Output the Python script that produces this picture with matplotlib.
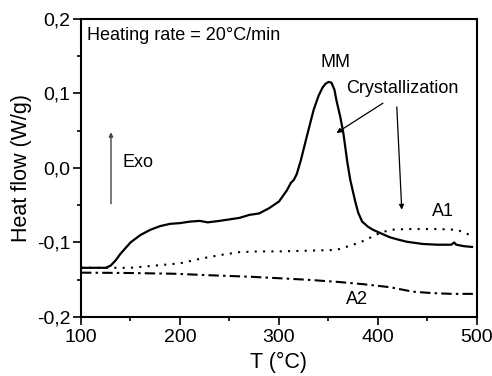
import matplotlib
matplotlib.use("Agg")
import matplotlib.pyplot as plt
from matplotlib.ticker import MultipleLocator

plt.rcParams['font.family'] = ['Liberation Sans', 'DejaVu Sans']

# MM curve (solid)
t_mm = [100, 115, 125, 130, 135, 140, 150, 160, 170, 180, 190, 200, 210, 220, 228,
        240, 250, 260, 270, 280, 290, 300, 308, 312, 315, 318, 322, 329, 335, 340,
        344, 347, 350, 353, 356, 358, 362, 365, 369, 372, 377, 380, 384, 390, 395,
        405, 412, 420, 429, 445, 460, 474, 477, 479, 487, 495]
hf_mm = [-0.134, -0.134, -0.134, -0.131, -0.124, -0.115, -0.100, -0.090, -0.083, -0.078,
         -0.075, -0.074, -0.072, -0.071, -0.073, -0.071, -0.069, -0.067, -0.063, -0.061,
         -0.054, -0.045, -0.030, -0.020, -0.016, -0.008, 0.010, 0.047, 0.078, 0.097,
         0.108, 0.113, 0.1155, 0.1145, 0.105, 0.091, 0.068, 0.047, 0.008, -0.016,
         -0.045, -0.060, -0.072, -0.079, -0.083, -0.089, -0.093, -0.096, -0.099, -0.102,
         -0.103, -0.103, -0.100, -0.103, -0.105, -0.106]

# A1 curve (dotted)
t_a1 = [100, 150, 175, 200, 220, 240, 260, 280, 300, 330, 358, 375, 387, 399, 412,
        429, 462, 480, 493]
hf_a1 = [-0.134, -0.134, -0.131, -0.128, -0.122, -0.117, -0.113, -0.112, -0.112, -0.111,
         -0.110, -0.103, -0.097, -0.089, -0.083, -0.082, -0.082, -0.083, -0.090]

# A2 curve (dash-dot)
t_a2 = [100, 150, 195, 230, 271, 300, 328, 360, 385, 412, 435, 455, 475, 500]
hf_a2 = [-0.1405, -0.141, -0.142, -0.144, -0.146, -0.148, -0.150, -0.153, -0.156,
         -0.160, -0.166, -0.168, -0.169, -0.169]

y_ticks = [-0.2, -0.1, 0.0, 0.1, 0.2]
y_tick_labels = ['-0,2', '-0,1', '0,0', '0,1', '0,2']
x_ticks = [100, 200, 300, 400, 500]

fig = plt.figure(figsize=(4.92, 3.76), dpi=100)
ax = fig.add_axes([0.1646, 0.157, 0.8049, 0.7925])

ax.plot(t_mm, hf_mm, color='black', lw=1.6, solid_joinstyle='round')
ax.plot(t_a1, hf_a1, color='black', lw=1.5, linestyle=(0, (1.0, 3.0)))
ax.plot(t_a2, hf_a2, color='black', lw=1.5, linestyle=(0, (5, 2, 1.2, 2)))

ax.set_xlim(100, 500)
ax.set_ylim(-0.2, 0.2)
ax.set_xticks(x_ticks)
ax.set_yticks(y_ticks)
ax.set_yticklabels(y_tick_labels)
ax.xaxis.set_minor_locator(MultipleLocator(50))
ax.yaxis.set_minor_locator(MultipleLocator(0.05))
ax.tick_params(which='major', direction='out', length=6, width=1.2, labelsize=14, pad=1.5)
ax.tick_params(which='minor', direction='out', length=3, width=1.2)
ax.tick_params(axis='x', which='major', pad=3)
for s in ax.spines.values():
    s.set_linewidth(1.5)

ax.set_xlabel('T (°C)', fontsize=15.5, labelpad=4)
ax.set_ylabel('Heat flow (W/g)', fontsize=15.5, labelpad=4)

ax.text(106, 0.1785, 'Heating rate = 20°C/min', fontsize=13, ha='left', va='center')
ax.text(357, 0.142, 'MM', fontsize=13, ha='center', va='center')
ax.text(367.7, 0.107, 'Crystallization', fontsize=13, ha='left', va='center')
ax.text(465.6, -0.058, 'A1', fontsize=13, ha='center', va='center')
ax.text(378.8, -0.1765, 'A2', fontsize=13, ha='center', va='center')
ax.text(142.4, 0.008, 'Exo', fontsize=13, ha='left', va='center')

ax.annotate('', xy=(358, 0.047), xytext=(405, 0.087),
            arrowprops=dict(arrowstyle='-|>', color='black', lw=0.9,
                            mutation_scale=7, shrinkA=0, shrinkB=0))
ax.annotate('', xy=(424, -0.056), xytext=(419, 0.082),
            arrowprops=dict(arrowstyle='-|>', color='black', lw=0.9,
                            mutation_scale=7, shrinkA=0, shrinkB=0))
ax.annotate('', xy=(130.3, 0.048), xytext=(130.3, -0.048),
            arrowprops=dict(arrowstyle='-|>', color='#444444', lw=1.0,
                            mutation_scale=6, shrinkA=0, shrinkB=0))

fig.savefig('out.png', dpi=100)
